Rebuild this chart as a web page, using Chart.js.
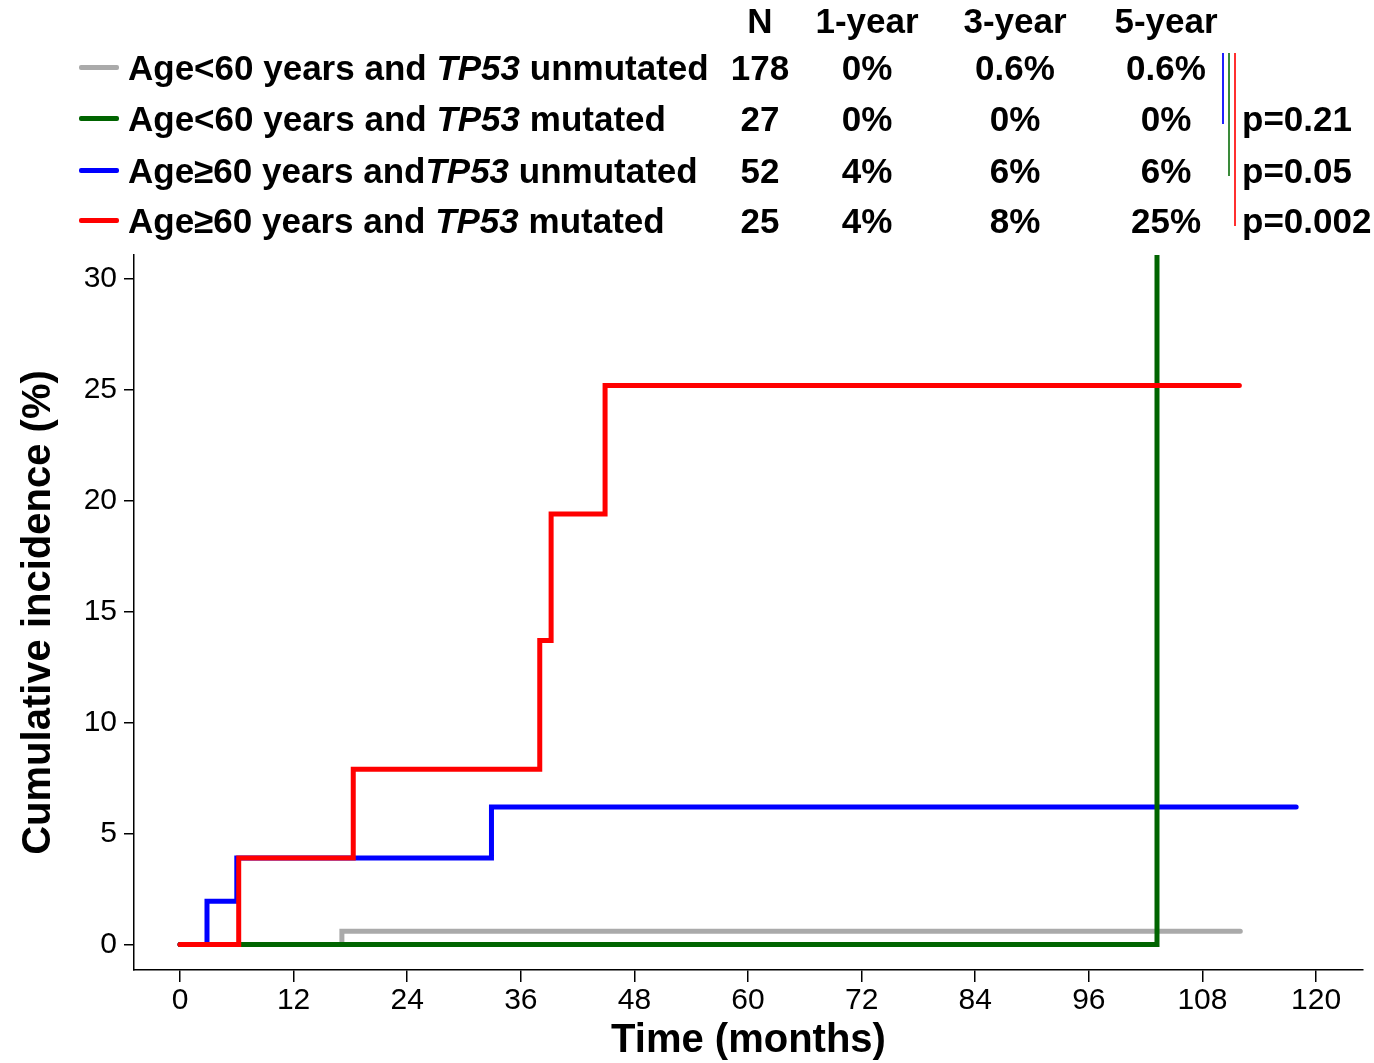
<!DOCTYPE html>
<html>
<head>
<meta charset="utf-8">
<script src="https://cdn.jsdelivr.net/npm/chart.js@4/dist/chart.umd.min.js"></script>
<style>
  html, body { margin: 0; padding: 0; background: #fff; }
  #wrap { position: relative; width: 1374px; height: 1063px; overflow: hidden; font-family: "Liberation Sans", Arial, sans-serif; }
  #c { position: absolute; left: 0; top: 0; }
  .t { position: absolute; font-weight: bold; font-size: 35px; line-height: 40px; height: 40px; color: #000; white-space: nowrap; }
  .c { transform: translateX(-50%); }
  .sw { position: absolute; height: 5px; border-radius: 2px; }
  .vl { position: absolute; width: 2px; }
</style>
</head>
<body>
<div id="wrap">
  <canvas id="c" width="1374" height="1063"></canvas>
</div>
<script>
// ---- Data ----
const groupPrefix = ["Age<60 years and ", "Age<60 years and ", "Age\u226560 years and", "Age\u226560 years and "];
const groupGene   = ["TP53", "TP53", "TP53", "TP53"];
const groupSuffix = [" unmutated", " mutated", " unmutated", " mutated"];
const groupColors = ["#aaaaaa", "#006400", "#0000ff", "#ff0000"];
const nValues     = ["178", "27", "52", "25"];
const oneYear     = ["0%", "0%", "4%", "4%"];
const threeYear   = ["0.6%", "0%", "6%", "8%"];
const fiveYear    = ["0.6%", "0%", "6%", "25%"];
const tableHeader = ["N", "1-year", "3-year", "5-year"];
const pValues     = ["", "p=0.21", "p=0.05", "p=0.002"];

// Step-curve points (months, cumulative incidence %)
const grayX  = [0, 17.1, 112.0];
const grayY  = [0, 0.6, 0.6];
const greenX = [0, 103.2, 103.2];
const greenY = [0, 0, 100];
const blueX  = [0, 2.85, 6.0, 32.9, 117.9];
const blueY  = [0, 1.95, 3.9, 6.2, 6.2];
const redX   = [0, 6.2, 18.3, 38.0, 39.2, 44.9, 111.9];
const redY   = [0, 3.9, 7.9, 13.7, 19.4, 25.2, 25.2];

const xTicks = [0, 12, 24, 36, 48, 60, 72, 84, 96, 108, 120];
const yTicks = [0, 5, 10, 15, 20, 25, 30];

const xTitle = "Time (months)";
const yTitle = "Cumulative incidence (%)";

// ---- Legend / table (HTML text) ----
const wrap = document.getElementById('wrap');
function addText(html, x, cy, center) {
  const d = document.createElement('div');
  d.className = 't' + (center ? ' c' : '');
  d.innerHTML = html;
  d.style.left = x + 'px';
  d.style.top = (cy - 20) + 'px';
  wrap.appendChild(d);
  return d;
}
function esc(s) { return s.replace(/&/g,'&amp;').replace(/</g,'&lt;'); }
const rowY = [68, 119, 171, 221];
const colX = [760, 867, 1015, 1166];
tableHeader.forEach((h, i) => addText(esc(h), colX[i], 21, true));
for (let i = 0; i < 4; i++) {
  const sw = document.createElement('div');
  sw.className = 'sw';
  sw.style.left = '79px'; sw.style.width = '40px';
  sw.style.top = (rowY[i] - 3) + 'px';
  sw.style.background = groupColors[i];
  wrap.appendChild(sw);
  addText(esc(groupPrefix[i]) + '<i>' + esc(groupGene[i]) + '</i>' + esc(groupSuffix[i]), 128, rowY[i], false);
  addText(esc(nValues[i]), colX[0], rowY[i], true);
  addText(esc(oneYear[i]), colX[1], rowY[i], true);
  addText(esc(threeYear[i]), colX[2], rowY[i], true);
  addText(esc(fiveYear[i]), colX[3], rowY[i], true);
  if (pValues[i]) addText(esc(pValues[i]), 1242, rowY[i], false);
}
// comparison bars: reference row 1 vs rows 2, 3, 4
[[1, 1222, '#2020ff'], [2, 1228, '#3a8a3a'], [3, 1234, '#ff3030']].forEach(([r, x, col]) => {
  const v = document.createElement('div');
  v.className = 'vl';
  v.style.left = x + 'px';
  v.style.top = '53px';
  v.style.height = (rowY[r] + 5 - 53) + 'px';
  v.style.background = col;
  wrap.appendChild(v);
});

// ---- Chart ----
function pts(xs, ys) { return xs.map((x, i) => ({ x: x, y: ys[i] })); }
const FONT = '"Liberation Sans", Arial, sans-serif';
Chart.defaults.font.family = FONT;
Chart.defaults.color = '#000';

const common = { stepped: 'before', borderWidth: 5, pointRadius: 0, fill: false, tension: 0,
                 borderCapStyle: 'round', borderJoinStyle: 'miter' };

new Chart(document.getElementById('c'), {
  type: 'line',
  data: {
    datasets: [
      Object.assign({ label: 'red',   data: pts(redX, redY),     borderColor: groupColors[3], order: 0 }, common),
      Object.assign({ label: 'green', data: pts(greenX, greenY), borderColor: groupColors[1], order: 1 }, common),
      Object.assign({ label: 'blue',  data: pts(blueX, blueY),   borderColor: groupColors[2], order: 2 }, common),
      Object.assign({ label: 'gray',  data: pts(grayX, grayY),   borderColor: groupColors[0], order: 3 }, common)
    ]
  },
  options: {
    responsive: false,
    devicePixelRatio: 1,
    animation: false,
    layout: { padding: { top: 255, right: 11, left: 0, bottom: 0 } },
    plugins: { legend: { display: false }, tooltip: { enabled: false } },
    scales: {
      x: {
        type: 'linear',
        min: -4.86, max: 124.96,
        afterBuildTicks: s => { s.ticks = xTicks.map(v => ({ value: v })); },
        afterFit: s => { s.height = 93; },
        ticks: { font: { size: 30 }, color: '#000', padding: 1, maxRotation: 0, autoSkip: false },
        grid: { drawOnChartArea: false, drawTicks: true, tickLength: 12, color: '#000', lineWidth: 1.5 },
        border: { display: true, color: '#000', width: 1.5 },
        title: { display: true, text: xTitle, color: '#000', font: { size: 40, weight: 'bold', lineHeight: 1.1 }, padding: 0 }
      },
      y: {
        type: 'linear',
        min: -1.15, max: 31.08,
        afterBuildTicks: s => { s.ticks = yTicks.map(v => ({ value: v })); },
        afterFit: s => { s.width = 134; },
        ticks: { font: { size: 30 }, color: '#000', padding: 7, autoSkip: false },
        grid: { drawOnChartArea: false, drawTicks: true, tickLength: 10, color: '#000', lineWidth: 1.5 },
        border: { display: true, color: '#000', width: 1.5 },
        title: { display: true, text: yTitle, color: '#000', font: { size: 40, weight: 'bold', lineHeight: 1.1 }, padding: { top: 17, bottom: 0 } }
      }
    }
  }
});
</script>
</body>
</html>
